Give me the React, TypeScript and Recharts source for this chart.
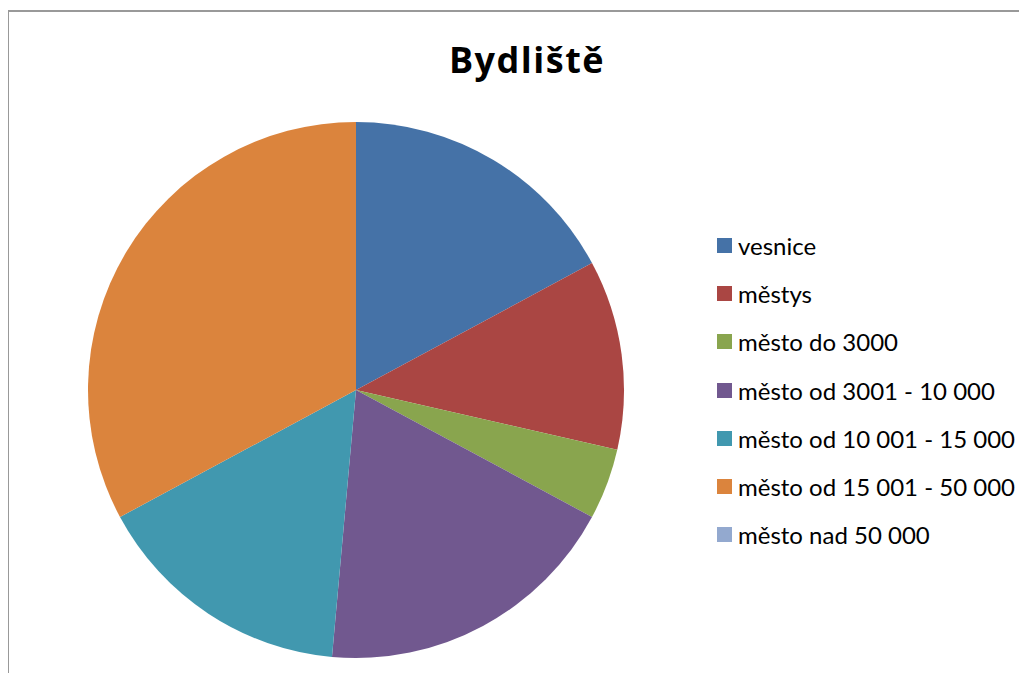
import React from "react";
import { PieChart, Pie, Cell, Legend } from "recharts";

const categories = [
  "vesnice",
  "městys",
  "město do 3000",
  "město od 3001 - 10 000",
  "město od 10 001 - 15 000",
  "město od 15 001 - 50 000",
  "město nad 50 000",
];
const counts = [12, 8, 3, 13, 11, 23, 0];
const colors = ["#4572A7", "#AA4643", "#89A54E", "#71588F", "#4198AF", "#DB843D", "#93A9CF"];

const chartTitle = "Bydliště";
const font = "Lato, 'Open Sans', sans-serif";

const data = categories.map((name, i) => ({ name, value: counts[i] }));

// custom legend so every category shows, even the empty one
function LegendList() {
  return (
    <ul style={{ listStyle: "none", margin: 0, padding: 0, fontFamily: font }}>
      {categories.map((name, i) => (
        <li key={name} style={{ display: "flex", alignItems: "center", height: 48.3 }}>
          <span
            style={{ display: "inline-block", width: 15, height: 15, background: colors[i], marginRight: 6 }}
          />
          <span style={{ fontSize: 24, color: "#000" }}>{name}</span>
        </li>
      ))}
    </ul>
  );
}

export default function App() {
  return (
    <div style={{ position: "relative", width: 1011, height: 665, background: "#fff" }}>
      <div
        style={{
          position: "absolute",
          left: -1,
          top: 2,
          width: 1100,
          height: 700,
          borderLeft: "2px solid #999",
          borderTop: "2px solid #999",
        }}
      />
      <div
        style={{
          position: "absolute",
          left: 0,
          top: 27,
          width: 1038,
          textAlign: "center",
          fontFamily: "'Open Sans', sans-serif",
          fontWeight: 700,
          fontSize: 36,
          letterSpacing: 1.5,
          color: "#000",
        }}
      >
        {chartTitle}
      </div>
      <div style={{ position: "absolute", left: 0, top: 0 }}>
        <PieChart width={1011} height={665}>
          <Pie
            data={data}
            dataKey="value"
            nameKey="name"
            cx={343}
            cy={377}
            outerRadius={268}
            startAngle={90}
            endAngle={-270}
            stroke="none"
            isAnimationActive={false}
          >
            {data.map((d, i) => (
              <Cell key={d.name} fill={colors[i]} />
            ))}
          </Pie>
          <Legend
            layout="vertical"
            align="right"
            verticalAlign="top"
            wrapperStyle={{ left: 709, top: 213, width: 300 }}
            content={() => <LegendList />}
          />
        </PieChart>
      </div>
    </div>
  );
}
